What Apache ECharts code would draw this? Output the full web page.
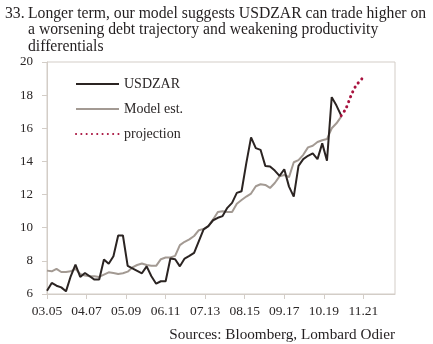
<!DOCTYPE html>
<html>
<head>
<meta charset="utf-8">
<script src="https://cdn.jsdelivr.net/npm/echarts@6/dist/echarts.min.js"></script>
<style>
  html, body { margin: 0; padding: 0; background: #fff; }
  #chart { width: 433px; height: 344px; }
</style>
</head>
<body>
<div id="chart"></div>
<script>
// Quarterly observations starting March 2005
const startYear = 2005, startMonth = 3, stepMonths = 3;

const usdzar = [
  6.2, 6.67, 6.5, 6.4, 6.16, 7.07, 7.78, 7.03, 7.27, 7.07,
  6.87, 6.87, 8.08, 7.82, 8.28, 9.53, 9.53, 7.7, 7.55, 7.4,
  7.25, 7.67, 7.07, 6.62, 6.77, 6.77, 8.14, 8.1, 7.67, 8.14,
  8.3, 8.48, 9.19, 9.9, 10.1, 10.45, 10.6, 10.7, 11.2, 11.5,
  12.1, 12.2, 13.9, 15.45, 14.8, 14.7, 13.73, 13.7, 13.45, 13.13,
  13.53, 12.48, 11.88, 13.73, 14.14, 14.34, 14.48, 14.14, 15.09, 14.04,
  17.88, 17.37, 16.76
];

const modelEst = [
  7.41, 7.37, 7.52, 7.33, 7.33, 7.37, 7.52, 7.21, 7.11, 7.07,
  7.07, 7.03, 7.17, 7.31, 7.27, 7.21, 7.25, 7.35, 7.6, 7.75,
  7.84, 7.75, 7.7, 7.7, 8.1, 8.2, 8.2, 8.3, 8.95, 9.15,
  9.3, 9.5, 9.85, 9.92, 10.1, 10.5, 10.95, 11.0, 10.95, 10.95,
  11.45, 11.67, 11.88, 12.06, 12.5, 12.62, 12.58, 12.4, 12.7, 13.1,
  13.18, 13.05, 13.95, 14.08, 14.4, 14.85, 14.95, 15.17, 15.28, 15.35,
  16.0, 16.3, 16.7
];

// Projection path: month offsets from March 2005 and projected levels
const projMonths = [186, 189, 192, 195, 199];
const projValues = [16.76, 17.2, 17.92, 18.52, 18.98];

const tickLabels = ['03.05', '04.07', '05.09', '06.11', '07.13', '08.15', '09.17', '10.19', '11.21'];
const yMin = 6, yMax = 20, yStep = 2;
const xMaxMonths = 220;

// month offset of an "MM.YY" label from the series start
function labelToMonths(s) {
  const [mm, yy] = s.split('.').map(Number);
  return (2000 + yy - startYear) * 12 + (mm - startMonth);
}
const tickValues = tickLabels.map(labelToMonths);
const labelByValue = {};
tickValues.forEach((v, i) => { labelByValue[v] = tickLabels[i]; });

const pair = (arr) => arr.map((v, i) => [i * stepMonths, v]);

const serif = '"Liberation Serif", "DejaVu Serif", serif';
const axisColor = '#d3cdc7';
const textColor = '#2a2626';
const titleColor = '#231f20';

const chart = echarts.init(document.getElementById('chart'), null, { renderer: 'canvas' });
chart.setOption({
  animation: false,
  backgroundColor: '#ffffff',
  grid: {
    left: 47, right: 38, top: 62, bottom: 50,
    show: true, borderColor: axisColor, borderWidth: 1
  },
  legend: {
    orient: 'vertical',
    left: 75, top: 77, padding: 0,
    itemWidth: 43, itemHeight: 14, itemGap: 11,
    itemStyle: { opacity: 0 },
    textStyle: { fontFamily: serif, fontSize: 14, color: textColor, lineHeight: 14 },
    data: ['USDZAR', 'Model est.', 'projection']
  },
  xAxis: {
    type: 'value',
    min: 0, max: xMaxMonths,
    splitLine: { show: false },
    axisLine: { lineStyle: { color: axisColor, width: 1 } },
    axisTick: { customValues: tickValues, length: 5, lineStyle: { color: axisColor } },
    axisLabel: {
      customValues: tickValues,
      formatter: (v) => labelByValue[v] || '',
      fontFamily: serif, fontSize: 13.5, color: textColor, margin: 10
    }
  },
  yAxis: {
    type: 'value',
    min: yMin, max: yMax, interval: yStep,
    splitLine: { show: false },
    axisLine: { show: true, lineStyle: { color: axisColor, width: 1 } },
    axisTick: { show: true, length: 5, lineStyle: { color: axisColor } },
    axisLabel: { fontFamily: serif, fontSize: 13, color: textColor, margin: 14 }
  },
  series: [
    {
      name: 'USDZAR', type: 'line', symbol: 'none', z: 3,
      data: pair(usdzar),
      lineStyle: { color: '#2b2422', width: 2 },
      itemStyle: { color: '#2b2422' }
    },
    {
      name: 'Model est.', type: 'line', symbol: 'none', z: 2,
      data: pair(modelEst),
      lineStyle: { color: '#a39a93', width: 2 },
      itemStyle: { color: '#a39a93' }
    },
    {
      name: 'projection', type: 'line', symbol: 'none', z: 4, smooth: 0.3,
      data: projMonths.map((m, i) => [m, projValues[i]]),
      lineStyle: { color: '#a8123e', width: 3, type: [0.1, 5.2], cap: 'round' },
      itemStyle: { color: '#a8123e' }
    }
  ],
  graphic: [
    { type: 'text', left: 5, top: 5.5, style: { text: '33.', font: '15.7px ' + serif, fill: titleColor } },
    { type: 'text', left: 28, top: 5.5, style: { text: 'Longer term, our model suggests USDZAR can trade higher on', font: '15.7px ' + serif, fill: titleColor } },
    { type: 'text', left: 28, top: 22, style: { text: 'a worsening debt trajectory and weakening productivity', font: '15.7px ' + serif, fill: titleColor } },
    { type: 'text', left: 28, top: 38.5, style: { text: 'differentials', font: '15.7px ' + serif, fill: titleColor } },
    { type: 'text', right: 38, top: 327.5, style: { text: 'Sources: Bloomberg, Lombard Odier', font: '15.2px ' + serif, fill: titleColor } }
  ]
});
</script>
</body>
</html>
